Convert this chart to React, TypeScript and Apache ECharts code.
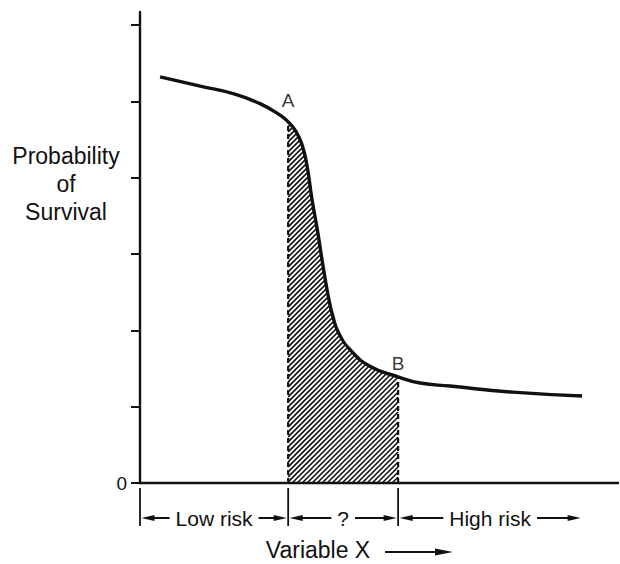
import React, { useEffect, useRef } from 'react';
import * as echarts from 'echarts';

// Survival curve (x = Variable X, y = probability of survival, arbitrary units)
const curveX = [0.42, 1.26, 1.95, 2.51, 2.93, 3.10, 3.26, 3.39, 3.49, 3.60, 3.72, 3.83, 3.95, 4.04, 4.16, 4.39, 4.81, 5.40, 5.86, 6.49, 7.80, 9.25];
const curveY = [5.32, 5.20, 5.10, 4.97, 4.82, 4.73, 4.61, 4.43, 4.17, 3.71, 3.28, 2.84, 2.41, 2.17, 1.96, 1.75, 1.53, 1.39, 1.31, 1.27, 1.19, 1.14];
// Index of the labelled points A and B on the curve
const markedIdx = [5, 17];
const markedNames = ['A', 'B'];
// Risk zones along the x axis
const riskBounds = [0, 3.10, 5.40, 9.25];
const riskLabels = ['Low risk', '?', 'High risk'];
// Y axis ticks and labels
const yTicks = [0, 1, 2, 3, 4, 5, 6];
const yLabels = [0];

const FONT = '"Liberation Sans", Arial, Helvetica, sans-serif';
const INK = '#111';

export default function App() {
  const ref = useRef<HTMLDivElement>(null);

  useEffect(() => {
    if (!ref.current) return;
    const chart = echarts.init(ref.current, undefined, { renderer: 'svg' });

    const curveData = curveX.map((x, i) => [x, curveY[i]]);
    const xA = curveX[markedIdx[0]];
    const yA = curveY[markedIdx[0]];
    const xB = curveX[markedIdx[1]];
    const yB = curveY[markedIdx[1]];

    const option: any = {
      animation: false,
      backgroundColor: '#fff',
      grid: { left: 140, right: 2, top: 12, bottom: 81, containLabel: false },
      xAxis: {
        type: 'value',
        min: 0,
        max: 10,
        axisLine: { show: true, lineStyle: { color: INK, width: 2.4 } },
        axisTick: { show: false },
        axisLabel: { show: false },
        splitLine: { show: false },
      },
      yAxis: {
        type: 'value',
        min: 0,
        max: 6.17,
        axisLine: { show: true, lineStyle: { color: INK, width: 2.4 } },
        axisTick: { show: true, customValues: yTicks, length: 9, lineStyle: { color: INK, width: 2 } },
        axisLabel: {
          customValues: yLabels,
          formatter: (v: number) => String(v),
          fontSize: 19,
          color: INK,
          margin: 13,
          fontFamily: FONT,
        },
        splitLine: { show: false },
      },
      graphic: [
        {
          type: 'text',
          x: 66,
          y: 142,
          style: {
            text: 'Probability\nof\nSurvival',
            align: 'center',
            verticalAlign: 'top',
            font: `23px ${FONT}`,
            lineHeight: 28,
            fill: INK,
          },
        },
        {
          type: 'text',
          x: 318,
          y: 550,
          style: {
            text: 'Variable X',
            align: 'center',
            verticalAlign: 'middle',
            font: `23px ${FONT}`,
            fill: INK,
          },
        },
        {
          type: 'line',
          shape: { x1: 385, y1: 552, x2: 442, y2: 552 },
          style: { stroke: INK, lineWidth: 2 },
        },
        {
          type: 'polygon',
          shape: { points: [[453, 552], [435, 548.5], [435, 555.5]] },
          style: { fill: INK },
        },
      ],
      series: [
        // hatched region under the curve between A and B (masked by the white area above the curve)
        {
          type: 'custom',
          data: [[xA, xB, yA]],
          renderItem: (params: any, api: any) => {
            const [l, t] = api.coord([api.value(0), api.value(2)]);
            const [r, b] = api.coord([api.value(1), 0]);
            const children: any[] = [];
            const step = 5;
            for (let c = l + t; c <= r + b; c += step) {
              const lo = Math.max(l, c - b);
              const hi = Math.min(r, c - t);
              if (hi > lo) {
                children.push({
                  type: 'line',
                  shape: { x1: lo, y1: c - lo, x2: hi, y2: c - hi },
                  style: { stroke: INK, lineWidth: 1.6 },
                });
              }
            }
            return { type: 'group', children };
          },
          z: 2,
        },
        // dashed edges of the hatched region
        {
          type: 'line',
          data: [[xA, 0], [xA, yA + 0.3]],
          showSymbol: false,
          lineStyle: { color: INK, width: 2.2, type: [5, 3] },
          z: 2,
        },
        {
          type: 'line',
          data: [[xB, 0], [xB, yB + 0.3]],
          showSymbol: false,
          lineStyle: { color: INK, width: 2.2, type: [5, 3] },
          z: 2,
        },
        // the survival curve, with white fill above it
        {
          type: 'line',
          data: curveData,
          smooth: 0.5,
          showSymbol: false,
          lineStyle: { color: INK, width: 3.4 },
          areaStyle: { color: '#fff', opacity: 1, origin: 'end' },
          z: 3,
        },
        // labels A and B
        {
          type: 'scatter',
          data: markedIdx.map((i) => [curveX[i], curveY[i]]),
          symbolSize: 0,
          label: {
            show: true,
            position: 'top',
            formatter: (p: any) => markedNames[p.dataIndex],
            fontSize: 19,
            color: '#000',
            fontFamily: FONT,
            distance: 0,
          },
          labelLayout: (p: any) => ({ dy: p.dataIndex === 0 ? -12 : -4 }),
          z: 4,
        },
        // risk zone brackets below the x axis
        {
          type: 'custom',
          data: riskLabels.map((_, i) => [riskBounds[i], riskBounds[i + 1]]),
          renderItem: (params: any, api: any) => {
            const x0 = api.coord([api.value(0), 0])[0];
            const x1 = api.coord([api.value(1), 0])[0];
            const y0 = api.coord([0, 0])[1];
            const yRow = y0 + 35;
            const a0 = x0 + 1.5;
            const a1 = x1 - 1.5;
            const children: any[] = [
              { type: 'line', shape: { x1: x0, y1: y0 + 5, x2: x0, y2: y0 + 43 }, style: { stroke: INK, lineWidth: 1.8 } },
              { type: 'line', shape: { x1: a0 + 6, y1: yRow, x2: a1 - 6, y2: yRow }, style: { stroke: INK, lineWidth: 1.8 } },
              { type: 'polygon', shape: { points: [[a0, yRow], [a0 + 13, yRow - 3], [a0 + 13, yRow + 3]] }, style: { fill: INK } },
              { type: 'polygon', shape: { points: [[a1, yRow], [a1 - 13, yRow - 3], [a1 - 13, yRow + 3]] }, style: { fill: INK } },
              {
                type: 'text',
                x: (x0 + x1) / 2,
                y: yRow,
                z2: 10,
                style: {
                  text: riskLabels[params.dataIndex],
                  align: 'center',
                  verticalAlign: 'middle',
                  font: `21px ${FONT}`,
                  fill: INK,
                  backgroundColor: '#fff',
                  padding: [0, 6],
                },
              },
            ];
            return { type: 'group', children };
          },
          z: 2,
        },
      ],
    };

    chart.setOption(option);
    return () => chart.dispose();
  }, []);

  return <div ref={ref} style={{ width: 620, height: 564, position: 'absolute', left: 0, top: 0 }} />;
}
